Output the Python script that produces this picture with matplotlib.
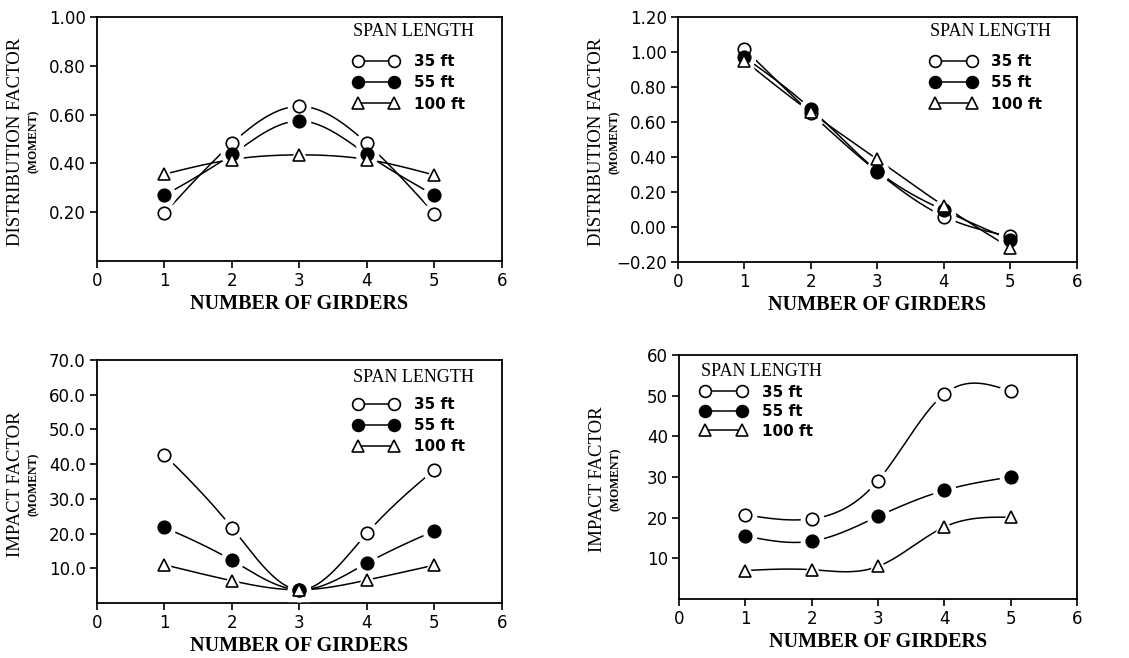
import numpy as np
import matplotlib
matplotlib.use("Agg")
import matplotlib.pyplot as plt
from matplotlib.lines import Line2D

girders = [1, 2, 3, 4, 5]
spans = ["35 ft", "55 ft", "100 ft"]

df_ext_35 = [0.196, 0.482, 0.634, 0.482, 0.194]
df_ext_55 = [0.269, 0.437, 0.574, 0.437, 0.269]
df_ext_100 = [0.356, 0.416, 0.435, 0.416, 0.352]

df_int_35 = [1.017, 0.650, 0.315, 0.060, -0.054]
df_int_55 = [0.970, 0.675, 0.320, 0.095, -0.073]
df_int_100 = [0.950, 0.655, 0.386, 0.120, -0.120]

if_a_35 = [42.7, 21.7, 3.8, 20.1, 38.4]
if_a_55 = [21.8, 12.3, 3.8, 11.5, 20.8]
if_a_100 = [11.0, 6.4, 3.8, 6.6, 10.9]

if_b_35 = [20.7, 19.7, 29.1, 50.4, 51.1]
if_b_55 = [15.5, 14.2, 20.3, 26.7, 30.0]
if_b_100 = [7.0, 7.2, 8.0, 17.7, 20.1]

SERIF = "Liberation Serif"
SANS = "DejaVu Sans"


def natural_spline(x, y, n=200):
    x = np.asarray(x, float)
    y = np.asarray(y, float)
    k = len(x)
    h = np.diff(x)
    A = np.zeros((k, k))
    b = np.zeros(k)
    A[0, 0] = 1
    A[-1, -1] = 1
    for i in range(1, k - 1):
        A[i, i - 1] = h[i - 1]
        A[i, i] = 2 * (h[i - 1] + h[i])
        A[i, i + 1] = h[i]
        b[i] = 3 * ((y[i + 1] - y[i]) / h[i] - (y[i] - y[i - 1]) / h[i - 1])
    c = np.linalg.solve(A, b)
    xs = np.linspace(x[0], x[-1], n)
    ys = np.empty_like(xs)
    for j, xv in enumerate(xs):
        i = min(np.searchsorted(x, xv, side="right") - 1, k - 2)
        bi = (y[i + 1] - y[i]) / h[i] - h[i] * (2 * c[i] + c[i + 1]) / 3
        di = (c[i + 1] - c[i]) / (3 * h[i])
        t = xv - x[i]
        ys[j] = y[i] + bi * t + c[i] * t ** 2 + di * t ** 3
    return xs, ys


styles = [
    dict(marker="o", mfc="white", mec="black", ms=9),
    dict(marker="o", mfc="black", mec="black", ms=9),
    dict(marker="^", mfc="white", mec="black", ms=9),
]

fig = plt.figure(figsize=(11.29, 6.58), dpi=100)

panels = [
    dict(rect=[0.0859, 0.6033, 0.3587, 0.3709], data=[df_ext_35, df_ext_55, df_ext_100],
         ylim=(0, 1.0), yticks=[0.2, 0.4, 0.6, 0.8, 1.0], fmt="{:.2f}",
         ylabel="DISTRIBUTION FACTOR", legend=(0.965, 1.03, "upper right", 10, 0.4)),
    dict(rect=[0.6005, 0.6018, 0.3534, 0.3723], data=[df_int_35, df_int_55, df_int_100],
         ylim=(-0.2, 1.2), yticks=[-0.2, 0.0, 0.2, 0.4, 0.6, 0.8, 1.0, 1.2], fmt="{:.2f}",
         ylabel="DISTRIBUTION FACTOR", legend=(0.97, 1.03, "upper right", 10, 0.4)),
    dict(rect=[0.0859, 0.0836, 0.3587, 0.3693], data=[if_a_35, if_a_55, if_a_100],
         ylim=(0, 70), yticks=[10, 20, 30, 40, 50, 60, 70], fmt="{:.1f}",
         ylabel="IMPACT FACTOR", legend=(0.965, 1.02, "upper right", 8, 0.4)),
    dict(rect=[0.6014, 0.0897, 0.3525, 0.3708], data=[if_b_35, if_b_55, if_b_100],
         ylim=(0, 60), yticks=[10, 20, 30, 40, 50, 60], fmt="{:.0f}",
         ylabel="IMPACT FACTOR", legend=(0.02, 1.025, "upper left", 3.5, 0.3)),
]

for p in panels:
    ax = fig.add_axes(p["rect"])
    for series, st in zip(p["data"], styles):
        xs, ys = natural_spline(girders, series)
        ax.plot(xs, ys, color="black", lw=1.1, zorder=2)
        ax.plot(girders, series, linestyle="none", marker=st["marker"], ms=st["ms"] + 7,
                mfc="white", mec="white", zorder=3)
        ax.plot(girders, series, linestyle="none", marker=st["marker"], ms=st["ms"],
                mfc=st["mfc"], mec=st["mec"], mew=1.2, zorder=4)
    ax.set_xlim(0, 6)
    ax.set_ylim(*p["ylim"])
    ax.set_xticks(range(0, 7))
    ax.set_xticklabels([str(v) for v in range(0, 7)], fontfamily=SANS, fontsize=12)
    ax.set_yticks(p["yticks"])
    ax.set_yticklabels([p["fmt"].format(v).replace("-", "\u2212") for v in p["yticks"]],
                       fontfamily=SANS, fontsize=12)
    ax.tick_params(direction="out", length=5, width=1.2, pad=3)
    for s in ax.spines.values():
        s.set_linewidth(1.3)
    ax.set_xlabel("NUMBER OF GIRDERS", fontfamily=SERIF, fontsize=14.5, fontweight="bold",
                  labelpad=3)
    w_px = p["rect"][2] * 1129
    ax.text(-81 / w_px, 0.49, p["ylabel"], transform=ax.transAxes, rotation=90,
            ha="center", va="center", fontfamily=SERIF, fontsize=13.5)
    ax.text(-63 / w_px, 0.49, "(MOMENT)", transform=ax.transAxes, rotation=90,
            ha="center", va="center", fontfamily=SERIF, fontsize=8.5, fontweight="bold")

    handles = [Line2D([0], [0], color="black", lw=1.1, marker=st["marker"], ms=8.5,
                      mfc=st["mfc"], mec="black", mew=1.2) for st in styles]
    bx, by, loc, sep, lsp = p["legend"]
    leg = ax.legend(handles, spans, loc=loc, bbox_to_anchor=(bx, by), frameon=False,
                    numpoints=2, handlelength=3.0, handletextpad=1.0, labelspacing=lsp,
                    title="SPAN LENGTH",
                    prop=dict(family=SANS, size=11, weight="bold"),
                    title_fontproperties=dict(family=SERIF, size=13))
    leg._legend_box.align = "left"
    leg._legend_box.sep = sep

fig.savefig("out.png", dpi=100)
